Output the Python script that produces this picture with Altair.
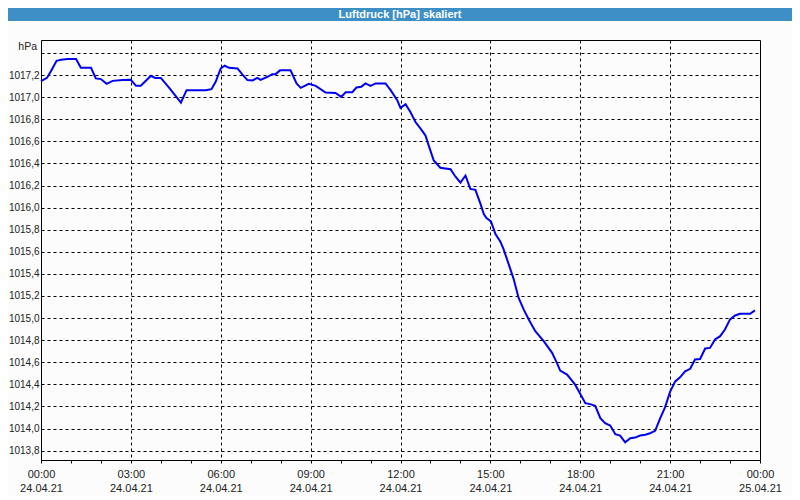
import altair as alt
import pandas as pd

# ---- data ----
hours = [
    0.0, 0.2, 0.33, 0.52, 0.67, 0.89, 1.17, 1.33, 1.67, 1.83,
    2.0, 2.19, 2.39, 2.72, 3.0, 3.17, 3.33, 3.67, 3.81, 4.0,
    4.28, 4.67, 4.86, 5.17, 5.5, 5.69, 5.83, 6.0, 6.13, 6.28,
    6.56, 6.72, 6.89, 7.06, 7.22, 7.33, 7.56, 7.72, 7.83, 7.98,
    8.33, 8.53, 8.67, 8.94, 9.17, 9.5, 9.83, 10.02, 10.17, 10.39,
    10.53, 10.69, 10.83, 11.0, 11.17, 11.5, 11.67, 11.89, 12.0, 12.17,
    12.33, 12.5, 12.67, 12.83, 12.94, 13.11, 13.33, 13.67, 13.83, 14.0,
    14.17, 14.33, 14.5, 14.67, 14.78, 14.87, 15.02, 15.17, 15.33, 15.44,
    15.61, 15.78, 15.94, 16.11, 16.28, 16.5, 16.78, 17.06, 17.22, 17.33,
    17.56, 17.83, 18.17, 18.33, 18.5, 18.67, 18.83, 19.0, 19.17, 19.33,
    19.5, 19.67, 19.83, 20.0, 20.17, 20.33, 20.5, 20.67, 20.83, 21.0,
    21.17, 21.33, 21.5, 21.67, 21.83, 22.0, 22.17, 22.33, 22.5, 22.67,
    22.83, 23.0, 23.17, 23.33, 23.67, 23.83,
]
pressure = [
    1017.145, 1017.175, 1017.236, 1017.330, 1017.339, 1017.345, 1017.345, 1017.266, 1017.266, 1017.170,
    1017.164, 1017.121, 1017.148, 1017.155, 1017.157, 1017.103, 1017.103, 1017.194, 1017.175, 1017.175,
    1017.085, 1016.952, 1017.064, 1017.064, 1017.064, 1017.073, 1017.139, 1017.261, 1017.285, 1017.266,
    1017.261, 1017.206, 1017.155, 1017.152, 1017.175, 1017.157, 1017.185, 1017.209, 1017.209, 1017.243,
    1017.243, 1017.125, 1017.085, 1017.121, 1017.103, 1017.043, 1017.039, 1017.003, 1017.045, 1017.045,
    1017.088, 1017.094, 1017.125, 1017.103, 1017.125, 1017.125, 1017.064, 1016.973, 1016.903, 1016.936,
    1016.866, 1016.775, 1016.715, 1016.655, 1016.564, 1016.427, 1016.361, 1016.348, 1016.282, 1016.227,
    1016.291, 1016.170, 1016.161, 1016.034, 1015.943, 1015.906, 1015.875, 1015.761, 1015.694, 1015.625,
    1015.488, 1015.352, 1015.185, 1015.079, 1014.988, 1014.882, 1014.791, 1014.685, 1014.594, 1014.525,
    1014.488, 1014.397, 1014.230, 1014.221, 1014.206, 1014.094, 1014.048, 1014.027, 1013.948, 1013.936,
    1013.875, 1013.912, 1013.918, 1013.936, 1013.943, 1013.957, 1013.979, 1014.094, 1014.191, 1014.334,
    1014.427, 1014.464, 1014.518, 1014.541, 1014.625, 1014.630, 1014.725, 1014.730, 1014.806, 1014.836,
    1014.897, 1014.988, 1015.024, 1015.039, 1015.039, 1015.070,
]
y_ticks = [round(1013.8 + 0.2 * i, 1) for i in range(19)]   # 1013.8 .. 1017.4
x_ticks = list(range(25))                                    # hourly ticks
time_labels = ["00:00", "03:00", "06:00", "09:00", "12:00", "15:00", "18:00", "21:00", "00:00"]
date_labels = ["24.04.21"] * 8 + ["25.04.21"]
title_text = ["Luftdruck [hPa] skaliert"]
unit_label = ["hPa"]

df = pd.DataFrame({"h": hours, "p": pressure})
title_df = pd.DataFrame({"t": title_text})
unit_df = pd.DataFrame({"u": unit_label})

FONT = "Liberation Sans"
tl = "[" + ",".join("'%s'" % s for s in time_labels) + "]"
dl = "[" + ",".join("'%s'" % s for s in date_labels) + "]"
x_label_expr = f"datum.value % 3 === 0 ? [{tl}[datum.value / 3], {dl}[datum.value / 3]] : ''"
y_label_expr = "datum.value > 1017.3 ? '' : replace(format(datum.value, '.1f'), '.', ',')"

x_scale = alt.Scale(domain=[0, 24], nice=False, zero=False)
y_scale = alt.Scale(domain=[1013.715, 1017.518], nice=False, zero=False)

line = alt.Chart(df).mark_line(color="#0000ee", strokeWidth=2).encode(
    x=alt.X(
        "h:Q", scale=x_scale,
        axis=alt.Axis(
            values=x_ticks, title=None, domain=False,
            grid=True, gridColor="black", gridDash=[3, 3], gridWidth=1,
            gridOpacity={"condition": {"test": "datum.value % 3 === 0 && datum.value > 0 && datum.value < 24", "value": 1}, "value": 0},
            ticks=True, tickSize=3, tickColor="black", tickWidth=1,
            labelExpr=x_label_expr, labelFlush=False, labelOverlap=False,
            labelPadding=5, labelLineHeight=14.5,
            labelFont=FONT, labelFontSize=11, labelColor="#222222",
        ),
    ),
    y=alt.Y(
        "p:Q", scale=y_scale,
        axis=alt.Axis(
            values=y_ticks, title=None, domain=False,
            grid=True, gridColor="black", gridDash=[3, 3], gridWidth=1,
            ticks=False, labelPadding=2,
            labelExpr=y_label_expr, labelFlush=False, labelOverlap=False,
            labelFont=FONT, labelFontSize=10, labelColor="#222222",
        ),
    ),
)

band = alt.Chart(title_df).mark_rect(color="#3d8fc6").encode(
    x=alt.value(-33), x2=alt.value(751), y=alt.value(-32), y2=alt.value(-19)
)
title = alt.Chart(title_df).mark_text(
    font=FONT, fontSize=11, fontWeight="bold", color="white", align="center", baseline="middle"
).encode(x=alt.value(359), y=alt.value(-25.5), text="t:N")

unit = alt.Chart(unit_df).mark_text(
    font=FONT, fontSize=10.5, color="#222222", align="right", baseline="middle"
).encode(x=alt.value(-4), y=alt.value(7), text="u:N")

chart = alt.layer(band, title, line, unit).properties(
    width=719, height=420,
    autosize=alt.AutoSizeParams(type="none"),
    padding={"left": 33, "top": 32, "right": 32, "bottom": 36},
    background="#fbfcfb",
).configure_view(stroke="black", strokeWidth=1)

chart.save("out.html", embed_options={"renderer": "svg", "actions": False})
